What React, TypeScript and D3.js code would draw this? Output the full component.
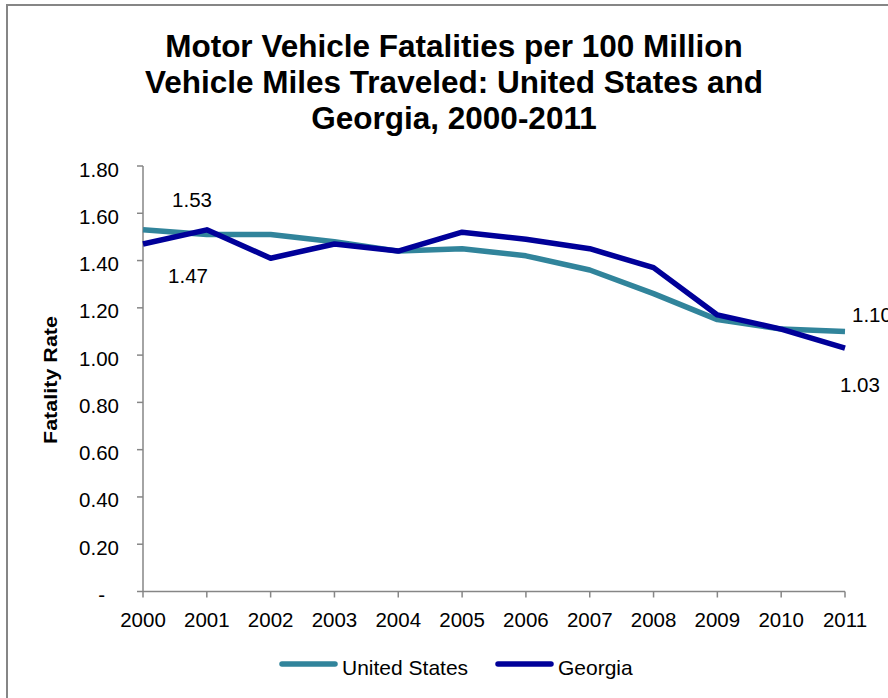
import React from "react";
import * as d3 from "d3";

// Fatalities per 100 million vehicle miles traveled, 2000-2011
const years: number[] = [2000, 2001, 2002, 2003, 2004, 2005, 2006, 2007, 2008, 2009, 2010, 2011];
const unitedStates: number[] = [1.53, 1.51, 1.51, 1.48, 1.44, 1.45, 1.42, 1.36, 1.26, 1.15, 1.11, 1.10];
const georgia: number[] = [1.47, 1.53, 1.41, 1.47, 1.44, 1.52, 1.49, 1.45, 1.37, 1.17, 1.11, 1.03];
const yTicks: number[] = [0, 0.2, 0.4, 0.6, 0.8, 1.0, 1.2, 1.4, 1.6, 1.8];
const titleLines: string[] = [
  "Motor Vehicle Fatalities per 100 Million",
  "Vehicle Miles Traveled: United States and",
  "Georgia, 2000-2011",
];
const seriesNames: string[] = ["United States", "Georgia"];

const W = 888;
const H = 698;
const FONT = "'Liberation Sans', Arial, Helvetica, sans-serif";
const US_COLOR = "#31849B";
const GA_COLOR = "#000099";
const AXIS_COLOR = "#868686";

const plot = { left: 143, right: 845, top: 166, bottom: 591.5 };

export default function App() {
  const x = d3.scalePoint<number>().domain(years).range([plot.left, plot.right]);
  const y = d3.scaleLinear().domain([0, 1.8]).range([plot.bottom, plot.top]);

  const line = d3
    .line<number>()
    .x((_, i) => x(years[i]) as number)
    .y((d) => y(d));

  const series = [
    { name: seriesNames[0], values: unitedStates, color: US_COLOR },
    { name: seriesNames[1], values: georgia, color: GA_COLOR },
  ];

  const first = years[0];
  const last = years[years.length - 1];
  const fmt = d3.format(".2f");

  // value labels at the first and last points of each series
  const endLabels: { v: number; yr: number; dx: number; dy: number; anchor: string }[] = [
    { v: unitedStates[0], yr: first, dx: 49, dy: -23, anchor: "middle" },
    { v: georgia[0], yr: first, dx: 45, dy: 39, anchor: "middle" },
    { v: unitedStates[unitedStates.length - 1], yr: last, dx: 7, dy: -9.5, anchor: "start" },
    { v: georgia[georgia.length - 1], yr: last, dx: -5, dy: 44, anchor: "start" },
  ];

  return (
    <svg
      width={W}
      height={H}
      style={{ position: "absolute", left: 0, top: 0, background: "#fff" }}
      fontFamily={FONT}
    >
      <rect x={0} y={0} width={W} height={H} fill="#fff" />
      {/* chart frame */}
      <path d={`M7,${H + 2} V5 H${W + 2}`} fill="none" stroke={AXIS_COLOR} strokeWidth={2} />

      {/* title */}
      <text textAnchor="middle" fontSize={31.5} fontWeight="bold" fill="#000">
        {titleLines.map((t, i) => (
          <tspan key={i} x={454} y={57 + i * 36}>
            {t}
          </tspan>
        ))}
      </text>

      {/* y axis */}
      <line x1={plot.left} x2={plot.left} y1={plot.top} y2={plot.bottom} stroke={AXIS_COLOR} strokeWidth={1.5} />
      {yTicks.map((t) => (
        <g key={t}>
          <line x1={plot.left - 6} x2={plot.left} y1={y(t)} y2={y(t)} stroke={AXIS_COLOR} strokeWidth={1.5} />
          <text
            x={t === 0 ? 105 : 119}
            y={y(t) + 10.5}
            textAnchor="end"
            fontSize={20.5}
            fill="#000"
          >
            {t === 0 ? "-" : fmt(t)}
          </text>
        </g>
      ))}
      <text
        transform={`translate(57,380) rotate(-90)`}
        textAnchor="middle"
        fontSize={19}
        fontWeight="bold"
        fill="#000"
        textLength={128}
        lengthAdjust="spacingAndGlyphs"
      >
        Fatality Rate
      </text>

      {/* x axis */}
      <line x1={plot.left} x2={plot.right} y1={plot.bottom} y2={plot.bottom} stroke={AXIS_COLOR} strokeWidth={1.5} />
      {years.map((yr) => (
        <g key={yr}>
          <line
            x1={x(yr)}
            x2={x(yr)}
            y1={plot.bottom}
            y2={plot.bottom + 6}
            stroke={AXIS_COLOR}
            strokeWidth={1.5}
          />
          <text x={x(yr)} y={626.5} textAnchor="middle" fontSize={20.5} fill="#000">
            {yr}
          </text>
        </g>
      ))}

      {/* series lines */}
      {series.map((s) => (
        <path
          key={s.name}
          d={line(s.values) || ""}
          fill="none"
          stroke={s.color}
          strokeWidth={5.5}
          strokeLinejoin="round"
          strokeLinecap="butt"
        />
      ))}

      {/* endpoint labels */}
      {endLabels.map((l, i) => (
        <text
          key={i}
          x={(x(l.yr) as number) + l.dx}
          y={y(l.v) + l.dy}
          textAnchor={l.anchor}
          fontSize={20.5}
          fill="#000"
        >
          {fmt(l.v)}
        </text>
      ))}

      {/* legend */}
      {series.map((s, i) => {
        const lx = i === 0 ? 282 : 498;
        const ly = 664;
        return (
          <g key={s.name}>
            <line
              x1={lx}
              x2={lx + 53}
              y1={ly}
              y2={ly}
              stroke={s.color}
              strokeWidth={5.5}
              strokeLinecap="round"
            />
            <text x={lx + 60} y={ly + 11} fontSize={21} fill="#000">
              {s.name}
            </text>
          </g>
        );
      })}
    </svg>
  );
}
